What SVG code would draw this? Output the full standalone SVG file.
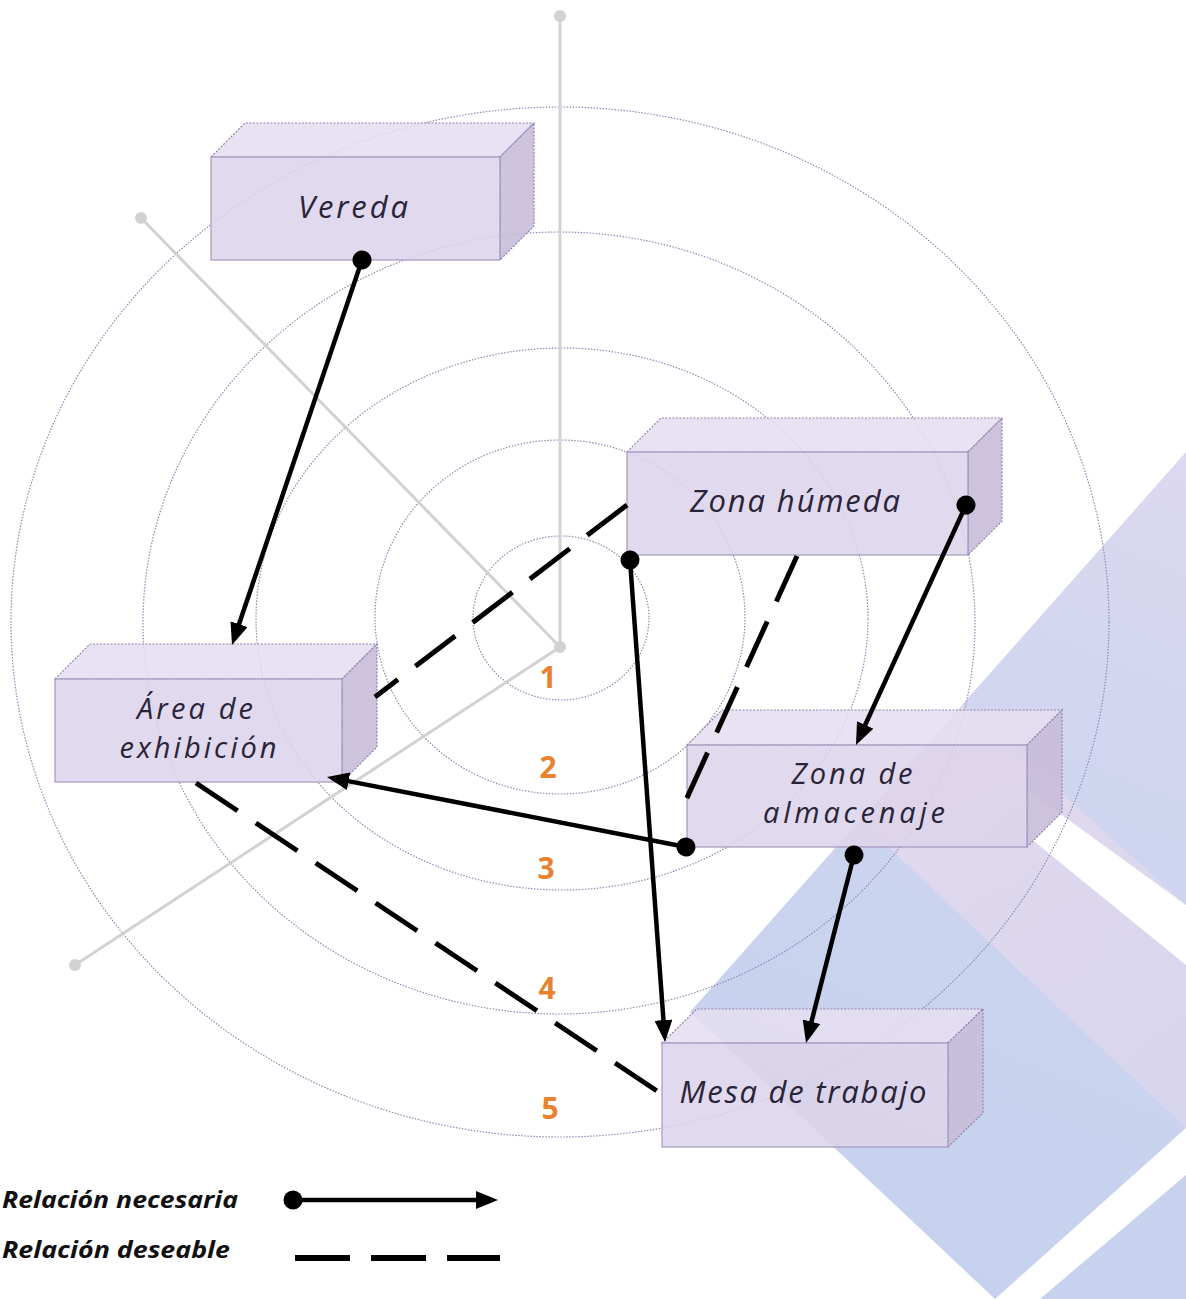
<svg xmlns="http://www.w3.org/2000/svg" width="1186" height="1299" viewBox="0 0 1186 1299">
<style>
.ring{fill:none;stroke:#8c8cb4;stroke-width:1.2;stroke-dasharray:1.5 1.5}
.axis{stroke:#d2d2d2;stroke-width:3;fill:none}
.axdot{fill:#d2d2d2}
.front{fill:#ddd4ea;fill-opacity:0.88;stroke:#a298bf;stroke-width:1.2}
.top{fill:#e5def0;fill-opacity:0.88;stroke:#8f86ad;stroke-width:1.2;stroke-dasharray:2 1.5}
.side{fill:#c8bcd9;fill-opacity:0.9;stroke:#8f86ad;stroke-width:1.2;stroke-dasharray:2 1.5}
.lbl{font-family:"Open Sans","Liberation Sans",sans-serif;font-style:italic;font-size:31px;fill:#2a2438;text-anchor:middle}
.lbl2{font-family:"Open Sans","Liberation Sans",sans-serif;font-style:italic;font-size:29px;fill:#2a2438;text-anchor:middle}
.num{font-family:"Open Sans","Liberation Sans",sans-serif;font-weight:bold;font-size:30px;fill:#e8822e;text-anchor:middle}
.leg{font-family:"Open Sans","Liberation Sans",sans-serif;font-weight:bold;font-style:italic;font-size:23px;fill:#111}
.need{stroke:#000;stroke-width:4.5;fill:none;marker-start:url(#dot);marker-end:url(#arrow)}
.want{stroke:#000;stroke-width:5;fill:none;stroke-dasharray:50 22}
</style>
<defs>
<marker id="dot" markerUnits="userSpaceOnUse" markerWidth="20" markerHeight="20" refX="10" refY="10" orient="auto">
<circle cx="10" cy="10" r="9.5" fill="#000"/>
</marker>
<marker id="arrow" markerUnits="userSpaceOnUse" markerWidth="22" markerHeight="18" refX="16" refY="9" orient="auto">
<path d="M0,0 L22,9 L0,18 z" fill="#000"/>
</marker>
<linearGradient id="gBig" x1="1186" y1="452" x2="850" y2="1299" gradientUnits="userSpaceOnUse">
<stop offset="0" stop-color="#dcd8f0"/>
<stop offset="0.5" stop-color="#ccd4ef"/>
<stop offset="1" stop-color="#c4d1ee"/>
</linearGradient>
<linearGradient id="gPink" x1="900" y1="760" x2="1186" y2="1100" gradientUnits="userSpaceOnUse">
<stop offset="0" stop-color="#e6daee"/>
<stop offset="1" stop-color="#dcd6ee"/>
</linearGradient>
</defs>

<g id="background">
<polygon points="1186,452 690,1012 995,1299 1186,1299" fill="url(#gBig)"/>
<polygon points="963,705 1186,905 1186,1128 860,820" fill="url(#gPink)" opacity="0.8"/>
<polygon points="1030,792 1186,905 1186,965 1030,838" fill="#ffffff"/>
<polygon points="995,1299 1040,1299 1186,1175 1186,1128" fill="#ffffff"/>
</g>

<g id="rings">
<ellipse class="ring" cx="560" cy="622" rx="549" ry="515"/>
<ellipse class="ring" cx="559" cy="623" rx="416" ry="391"/>
<ellipse class="ring" cx="562" cy="619" rx="306" ry="271"/>
<ellipse class="ring" cx="560" cy="617" rx="185" ry="177"/>
<ellipse class="ring" cx="561" cy="618" rx="88" ry="82"/>
</g>

<g id="axes">
<line class="axis" x1="560" y1="16" x2="560" y2="647"/>
<line class="axis" x1="141" y1="218" x2="560" y2="647"/>
<line class="axis" x1="75" y1="965" x2="560" y2="647"/>
<circle class="axdot" cx="560" cy="16" r="6"/>
<circle class="axdot" cx="141" cy="218" r="6"/>
<circle class="axdot" cx="75" cy="965" r="6"/>
<circle class="axdot" cx="560" cy="647" r="6"/>
</g>

<g id="numbers">
<text class="num" x="548" y="688">1</text>
<text class="num" x="548" y="778">2</text>
<text class="num" x="546" y="879">3</text>
<text class="num" x="547" y="999">4</text>
<text class="num" x="550" y="1119">5</text>
</g>

<g id="node-vereda">
<polygon class="top" points="211,157 245,123 534,123 500,157"/>
<polygon class="side" points="500,157 534,123 534,226 500,260"/>
<rect class="front" x="211" y="157" width="289" height="103"/>
<text class="lbl" x="353" y="218" textLength="110" lengthAdjust="spacing">Vereda</text>
</g>

<g id="node-zona-humeda">
<polygon class="top" points="627,452 661,418 1002,418 968,452"/>
<polygon class="side" points="968,452 1002,418 1002,521 968,555"/>
<rect class="front" x="627" y="452" width="341" height="103"/>
<text class="lbl" x="795" y="512" textLength="210" lengthAdjust="spacing">Zona húmeda</text>
</g>

<g id="node-area-exhibicion">
<polygon class="top" points="55,679 90,644 377,644 342,679"/>
<polygon class="side" points="342,679 377,644 377,747 342,782"/>
<rect class="front" x="55" y="679" width="287" height="103"/>
<text class="lbl2" x="195" y="719" textLength="116" lengthAdjust="spacing">Área de</text>
<text class="lbl2" x="198" y="758" textLength="157" lengthAdjust="spacing">exhibición</text>
</g>

<g id="node-zona-almacenaje">
<polygon class="top" points="687,745 722,710 1062,710 1027,745"/>
<polygon class="side" points="1027,745 1062,710 1062,812 1027,847"/>
<rect class="front" x="687" y="745" width="340" height="102"/>
<text class="lbl2" x="852" y="784" textLength="121" lengthAdjust="spacing">Zona de</text>
<text class="lbl2" x="854" y="823" textLength="182" lengthAdjust="spacing">almacenaje</text>
</g>

<g id="node-mesa-trabajo">
<polygon class="top" points="662,1043 697,1009 983,1009 948,1043"/>
<polygon class="side" points="948,1043 983,1009 983,1113 948,1147"/>
<rect class="front" x="662" y="1043" width="286" height="104"/>
<text class="lbl" x="803" y="1103" textLength="247" lengthAdjust="spacing">Mesa de trabajo</text>
</g>

<g id="connectors">
<line class="want" x1="627" y1="505" x2="375" y2="697"/>
<line class="want" x1="797" y1="556" x2="686" y2="800"/>
<line class="want" x1="196" y1="783" x2="660" y2="1093"/>
<line class="need" x1="362" y1="260" x2="233.9" y2="639.3"/>
<line class="need" x1="630" y1="560" x2="664.6" y2="1036"/>
<line class="need" x1="966" y1="505" x2="858.5" y2="739.5"/>
<line class="need" x1="686" y1="847" x2="332.9" y2="778.1"/>
<line class="need" x1="854" y1="855" x2="807.5" y2="1037.2"/>
</g>

<g id="legend">
<text class="leg" x="2" y="1208" textLength="236" lengthAdjust="spacingAndGlyphs">Relación necesaria</text>
<text class="leg" x="2" y="1258" textLength="228" lengthAdjust="spacingAndGlyphs">Relación deseable</text>
<line class="need" x1="293" y1="1200" x2="492" y2="1200"/>
<line x1="295" y1="1258" x2="500" y2="1258" stroke="#000" stroke-width="6" stroke-dasharray="55 21"/>
</g>
</svg>
